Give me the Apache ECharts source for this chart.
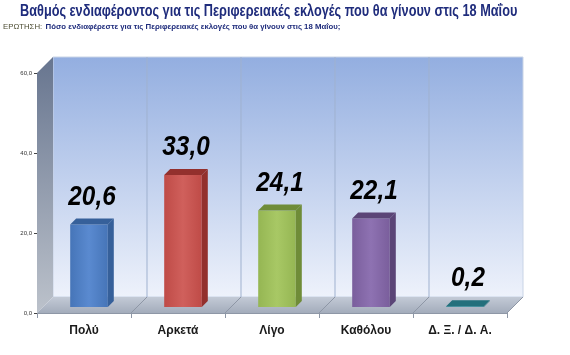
<!DOCTYPE html>
<html>
<head>
<meta charset="utf-8">
<script src="https://cdn.jsdelivr.net/npm/echarts@6/dist/echarts.min.js"></script>
<style>html,body{margin:0;padding:0;background:#fff;}#c{width:570px;height:355px;}</style>
</head>
<body>
<div id="c"></div>
<script>
const titleText = 'Βαθμός ενδιαφέροντος για τις Περιφερειακές εκλογές που θα γίνουν στις 18 Μαΐου';
const questionPrefix = 'ΕΡΩΤΗΣΗ:';
const questionText = 'Πόσο ενδιαφέρεστε για τις Περιφερειακές εκλογές που θα γίνουν στις 18 Μαΐου;';
const categories = ['Πολύ', 'Αρκετά', 'Λίγο', 'Καθόλου', 'Δ. Ξ. / Δ. Α.'];
const values = [20.6, 33.0, 24.1, 22.1, 0.2];
const valueLabels = ['20,6', '33,0', '24,1', '22,1', '0,2'];
const yMin = 0, yMax = 60, yStep = 20;
const barColors = [
  ['#5a8ad0', '#4675b8', '#36609a'],
  ['#d0605c', '#bf4b47', '#93302d'],
  ['#a8c865', '#95b653', '#6f8c38'],
  ['#8e72b2', '#7a5e9c', '#5b4577'],
  ['#3a9aa8', '#2f8a98', '#24707c']
];

const chart = echarts.init(document.getElementById('c'));
const D = 16;

function renderWalls(params, api) {
  if (params.dataIndex !== 0) return null;
  const p0 = api.coord([0, yMin]);
  const bw = api.size([1, 0])[0];
  const top = api.coord([0, yMax])[1];
  const bottom = p0[1];
  const left = p0[0] - bw / 2;
  const right = api.coord([categories.length - 1, yMin])[0] + bw / 2;
  const children = [];
  children.push({
    type: 'rect',
    shape: { x: left + D, y: top - D, width: right - left, height: bottom - top },
    style: {
      fill: new echarts.graphic.LinearGradient(0, 0, 0, 1, [
        { offset: 0, color: '#93aee0' }, { offset: 1, color: '#eef2fb' }
      ]),
      stroke: '#c9d4e6', lineWidth: 1
    }
  });
  children.push({
    type: 'polygon',
    shape: { points: [[left, top], [left + D, top - D], [left + D, bottom - D], [left, bottom]] },
    style: {
      fill: new echarts.graphic.LinearGradient(0, 0, 0, 1, [
        { offset: 0, color: '#67758f' }, { offset: 1, color: '#bcc2cb' }
      ])
    }
  });
  children.push({
    type: 'polygon',
    shape: { points: [[left, bottom], [left + D, bottom - D], [right + D, bottom - D], [right, bottom]] },
    style: {
      fill: new echarts.graphic.LinearGradient(0, 0, 0, 1, [
        { offset: 0, color: '#c3cad6' }, { offset: 1, color: '#a3acbb' }
      ])
    }
  });
  for (let k = 1; k < categories.length; k++) {
    const x = left + k * bw;
    children.push({
      type: 'line',
      shape: { x1: x + D, y1: top - D, x2: x + D, y2: bottom - D },
      style: { stroke: '#9fb1cf', lineWidth: 1 }
    });
    children.push({
      type: 'line',
      shape: { x1: x, y1: bottom, x2: x + D, y2: bottom - D },
      style: { stroke: '#8e97a6', lineWidth: 1 }
    });
  }
  children.push({
    type: 'line',
    shape: { x1: right, y1: bottom, x2: right + D, y2: bottom - D },
    style: { stroke: '#8e97a6', lineWidth: 1 }
  });
  return { type: 'group', children };
}

function renderBar(params, api) {
  const i = api.value(0), v = api.value(1);
  const base = api.coord([i, 0]);
  const tp = api.coord([i, v]);
  const bw = api.size([1, 0])[0] * 0.4;
  const ox = 5, oy = -6, d = 6;
  const x0 = base[0] - bw / 2 + ox, x1 = x0 + bw;
  const yb = base[1] + oy, yt = tp[1] + oy;
  const c = barColors[i];
  return {
    type: 'group',
    children: [
      {
        type: 'rect',
        shape: { x: x0, y: yt, width: bw, height: yb - yt },
        style: {
          fill: new echarts.graphic.LinearGradient(0, 0, 1, 0, [
            { offset: 0, color: c[1] }, { offset: 0.5, color: c[0] }, { offset: 1, color: c[1] }
          ])
        }
      },
      {
        type: 'polygon',
        shape: { points: [[x1, yt], [x1 + d, yt - d], [x1 + d, yb - d], [x1, yb]] },
        style: { fill: c[2] }
      },
      {
        type: 'polygon',
        shape: { points: [[x0, yt], [x0 + d, yt - d], [x1 + d, yt - d], [x1, yt]] },
        style: { fill: c[2] }
      },
      {
        type: 'text',
        x: x0 + bw / 2 + d / 2,
        y: yt - d - 8,
        scaleX: 0.9,
        style: {
          text: valueLabels[i],
          fill: '#000',
          font: 'italic bold 27px "Liberation Sans"',
          align: 'center',
          verticalAlign: 'bottom'
        }
      }
    ]
  };
}

chart.setOption({
  animation: false,
  graphic: [
    {
      type: 'text',
      x: 20, y: 4,
      scaleX: 0.795,
      style: {
        text: titleText,
        fill: '#1f2c7c',
        font: 'bold 16px "Liberation Sans"',
        align: 'left',
        verticalAlign: 'top'
      }
    },
    {
      type: 'text',
      x: 3, y: 21,
      style: {
        text: '{a|' + questionPrefix + '} {b|' + questionText + '}',
        align: 'left',
        verticalAlign: 'top',
        rich: {
          a: { fill: '#4d4d33', fontSize: 7.8, fontFamily: '"Liberation Sans"' },
          b: { fill: '#1f2c7c', fontSize: 7.8, fontWeight: 'bold', fontFamily: '"Liberation Sans"' }
        }
      }
    }
  ],
  grid: { left: 37, right: 63, top: 73, bottom: 42, containLabel: false },
  xAxis: {
    type: 'category',
    data: categories,
    axisLine: { show: true, lineStyle: { color: '#8e97a6', width: 1 } },
    axisTick: { show: true, length: 5, lineStyle: { color: '#8e97a6' } },
    axisLabel: { color: '#1a1a1a', fontSize: 12, fontWeight: 'bold', margin: 12, fontFamily: '"Liberation Sans"' },
    splitLine: { show: false }
  },
  yAxis: {
    type: 'value',
    min: yMin, max: yMax, interval: yStep,
    axisLine: { show: false },
    axisTick: { show: true, length: 3, lineStyle: { color: '#444' } },
    axisLabel: { color: '#333', fontSize: 6, margin: 5, formatter: v => v.toFixed(1).replace('.', ',') },
    splitLine: { show: false }
  },
  series: [
    {
      type: 'custom',
      renderItem: renderWalls,
      data: [[0, 0]],
      z: 1,
      silent: true
    },
    {
      type: 'custom',
      renderItem: renderBar,
      data: values.map((v, i) => [i, v]),
      z: 2
    }
  ]
});
</script>
</body>
</html>
